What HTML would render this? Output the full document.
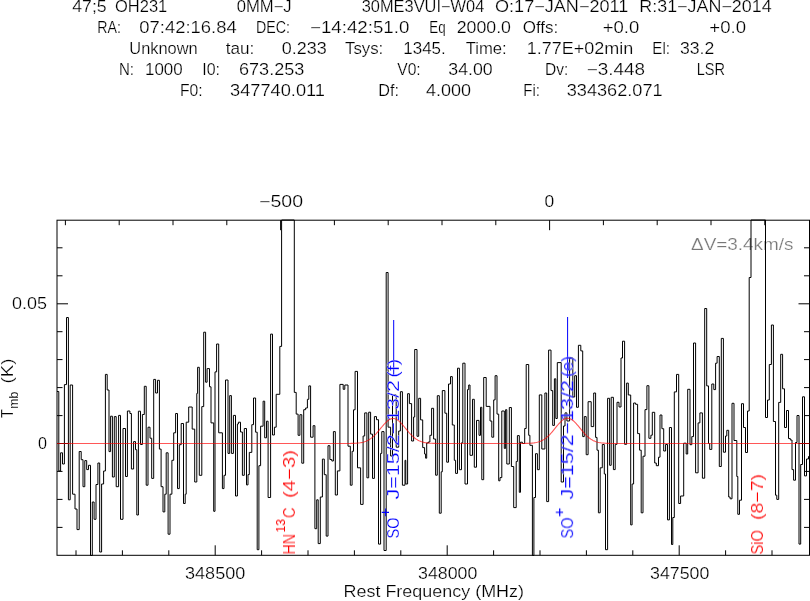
<!DOCTYPE html>
<html><head><meta charset="utf-8"><title>spectrum</title>
<style>
html,body{margin:0;padding:0;background:#fff;}
body{width:810px;height:601px;overflow:hidden;}
svg{display:block;}
text{font-family:"Liberation Sans",sans-serif;stroke:#fff;stroke-width:0.22px;}
</style></head><body>
<svg width="810" height="601" viewBox="0 0 810 601">
<defs><filter id="gs" x="0" y="0" width="810" height="601" filterUnits="userSpaceOnUse" color-interpolation-filters="sRGB"><feColorMatrix type="saturate" values="0"/></filter><filter id="idn" x="0" y="0" width="810" height="601" filterUnits="userSpaceOnUse" color-interpolation-filters="sRGB"><feOffset dx="0" dy="0"/></filter></defs>
<rect width="810" height="601" fill="#fff"/>
<g id="hdr" filter="url(#gs)">
<text x="72.3" y="11.9" font-size="16.2" textLength="34.4" lengthAdjust="spacingAndGlyphs" fill="#000" >47;5</text>
<text x="115.0" y="11.9" font-size="16.2" textLength="52.3" lengthAdjust="spacingAndGlyphs" fill="#000" >OH231</text>
<text x="236.7" y="11.9" font-size="16.2" textLength="55.0" lengthAdjust="spacingAndGlyphs" fill="#000" >0MM&#8722;J</text>
<text x="361.7" y="11.9" font-size="16.2" textLength="122.6" lengthAdjust="spacingAndGlyphs" fill="#000" >30ME3VUI&#8722;W04</text>
<text x="495.0" y="11.9" font-size="16.2" textLength="133.3" lengthAdjust="spacingAndGlyphs" fill="#000" >O:17&#8722;JAN&#8722;2011</text>
<text x="639.3" y="11.9" font-size="16.2" textLength="132.4" lengthAdjust="spacingAndGlyphs" fill="#000" >R:31&#8722;JAN&#8722;2014</text>
<text x="97.3" y="33.1" font-size="16.2" textLength="23.7" lengthAdjust="spacingAndGlyphs" fill="#000" >RA:</text>
<text x="139.3" y="33.1" font-size="16.2" textLength="97.4" lengthAdjust="spacingAndGlyphs" fill="#000" >07:42:16.84</text>
<text x="256.0" y="33.1" font-size="16.2" textLength="34.0" lengthAdjust="spacingAndGlyphs" fill="#000" >DEC:</text>
<text x="310.0" y="33.1" font-size="16.2" textLength="99.3" lengthAdjust="spacingAndGlyphs" fill="#000" >&#8722;14:42:51.0</text>
<text x="429.3" y="33.1" font-size="16.2" textLength="16.4" lengthAdjust="spacingAndGlyphs" fill="#000" >Eq</text>
<text x="456.7" y="33.1" font-size="16.2" textLength="54.3" lengthAdjust="spacingAndGlyphs" fill="#000" >2000.0</text>
<text x="522.7" y="33.1" font-size="16.2" textLength="35.6" lengthAdjust="spacingAndGlyphs" fill="#000" >Offs:</text>
<text x="602.7" y="33.1" font-size="16.2" textLength="36.6" lengthAdjust="spacingAndGlyphs" fill="#000" >+0.0</text>
<text x="709.3" y="33.1" font-size="16.2" textLength="36.7" lengthAdjust="spacingAndGlyphs" fill="#000" >+0.0</text>
<text x="129.3" y="54.1" font-size="16.2" textLength="68.4" lengthAdjust="spacingAndGlyphs" fill="#000" >Unknown</text>
<text x="225.7" y="54.1" font-size="16.2" textLength="28.6" lengthAdjust="spacingAndGlyphs" fill="#000" >tau:</text>
<text x="281.7" y="54.1" font-size="16.2" textLength="45.0" lengthAdjust="spacingAndGlyphs" fill="#000" >0.233</text>
<text x="345.0" y="54.1" font-size="16.2" textLength="38.3" lengthAdjust="spacingAndGlyphs" fill="#000" >Tsys:</text>
<text x="403.3" y="54.1" font-size="16.2" textLength="42.4" lengthAdjust="spacingAndGlyphs" fill="#000" >1345.</text>
<text x="465.7" y="54.1" font-size="16.2" textLength="41.0" lengthAdjust="spacingAndGlyphs" fill="#000" >Time:</text>
<text x="526.7" y="54.1" font-size="16.2" textLength="106.6" lengthAdjust="spacingAndGlyphs" fill="#000" >1.77E+02min</text>
<text x="652.3" y="54.1" font-size="16.2" textLength="17.7" lengthAdjust="spacingAndGlyphs" fill="#000" >El:</text>
<text x="680.0" y="54.1" font-size="16.2" textLength="34.3" lengthAdjust="spacingAndGlyphs" fill="#000" >33.2</text>
<text x="119.0" y="75.0" font-size="16.2" textLength="15.0" lengthAdjust="spacingAndGlyphs" fill="#000" >N:</text>
<text x="145.0" y="75.0" font-size="16.2" textLength="37.7" lengthAdjust="spacingAndGlyphs" fill="#000" >1000</text>
<text x="202.3" y="75.0" font-size="16.2" textLength="17.7" lengthAdjust="spacingAndGlyphs" fill="#000" >I0:</text>
<text x="239.0" y="75.0" font-size="16.2" textLength="65.3" lengthAdjust="spacingAndGlyphs" fill="#000" >673.253</text>
<text x="397.3" y="75.0" font-size="16.2" textLength="23.4" lengthAdjust="spacingAndGlyphs" fill="#000" >V0:</text>
<text x="448.3" y="75.0" font-size="16.2" textLength="44.4" lengthAdjust="spacingAndGlyphs" fill="#000" >34.00</text>
<text x="545.0" y="75.0" font-size="16.2" textLength="23.3" lengthAdjust="spacingAndGlyphs" fill="#000" >Dv:</text>
<text x="586.7" y="75.0" font-size="16.2" textLength="58.3" lengthAdjust="spacingAndGlyphs" fill="#000" >&#8722;3.448</text>
<text x="696.7" y="75.0" font-size="16.2" textLength="28.3" lengthAdjust="spacingAndGlyphs" fill="#000" >LSR</text>
<text x="180.0" y="95.9" font-size="16.2" textLength="22.7" lengthAdjust="spacingAndGlyphs" fill="#000" >F0:</text>
<text x="230.0" y="95.9" font-size="16.2" textLength="95.0" lengthAdjust="spacingAndGlyphs" fill="#000" >347740.011</text>
<text x="378.3" y="95.9" font-size="16.2" textLength="20.7" lengthAdjust="spacingAndGlyphs" fill="#000" >Df:</text>
<text x="426.0" y="95.9" font-size="16.2" textLength="45.0" lengthAdjust="spacingAndGlyphs" fill="#000" >4.000</text>
<text x="523.3" y="95.9" font-size="16.2" textLength="16.7" lengthAdjust="spacingAndGlyphs" fill="#000" >Fi:</text>
<text x="566.7" y="95.9" font-size="16.2" textLength="96.0" lengthAdjust="spacingAndGlyphs" fill="#000" >334362.071</text>
</g>
<g id="labels" filter="url(#gs)">
<text x="259.0" y="207.0" font-size="16.2" textLength="44.0" lengthAdjust="spacingAndGlyphs" fill="#000" >&#8722;500</text>
<text x="544.6" y="207.0" font-size="16.2" textLength="9.7" lengthAdjust="spacingAndGlyphs" fill="#000" >0</text>
<text x="12.0" y="309.0" font-size="16.2" textLength="35.0" lengthAdjust="spacingAndGlyphs" fill="#000" >0.05</text>
<text x="38.0" y="448.7" font-size="16.2" textLength="9.0" lengthAdjust="spacingAndGlyphs" fill="#000" >0</text>
<text x="185.0" y="578.8" font-size="16.2" textLength="60.3" lengthAdjust="spacingAndGlyphs" fill="#000" >348500</text>
<text x="418.0" y="578.8" font-size="16.2" textLength="59.3" lengthAdjust="spacingAndGlyphs" fill="#000" >348000</text>
<text x="650.0" y="578.8" font-size="16.2" textLength="59.3" lengthAdjust="spacingAndGlyphs" fill="#000" >347500</text>
<text x="343.5" y="597.2" font-size="16.9" textLength="180.5" lengthAdjust="spacingAndGlyphs" fill="#000" >Rest Frequency (MHz)</text>
<g transform="translate(13.1,418) rotate(-90)">
<text x="0" y="0" font-size="15.8" textLength="8.8" lengthAdjust="spacingAndGlyphs">T</text>
<text x="9.3" y="4.9" font-size="12.4" textLength="17" lengthAdjust="spacingAndGlyphs" style="stroke-width:0.1px">mb</text>
<text x="34.5" y="0" font-size="15.8" textLength="25" lengthAdjust="spacingAndGlyphs">(K)</text>
</g>
<text x="691.0" y="249.8" font-size="16.8" textLength="102.5" lengthAdjust="spacingAndGlyphs" fill="#777" >&#916;V=3.4km/s</text>
</g>
<path id="spec" d="M57.0,391.5H58.8V471.0H60.6V452.8H62.5V464.0H64.4V384.6H66.5V317.5H68.4V499.8H70.2V385.0H72.6V494.2H75.0V509.0H77.0V529.6H79.2V451.5H81.2V459.7H83.0V486.7H84.8V460.6H86.7V469.6H88.5V465.3H90.5V555.5H92.3V502.0H94.1V519.3H96.0V484.5H97.9V463.0H99.7V552.0H101.6V484.0H103.6V471.0H105.4V374.4H107.2V390.0H109.0V451.6H110.6V416.2H112.4V477.0H114.3V416.6H116.2V486.7H118.6V415.4H120.5V519.3H123.0V428.5H125.5V476.5H127.4V411.0H129.9V413.5H131.4V469.0H133.6V441.6H135.5V449.7H136.8V515.0H138.4V411.2H140.5V444.5H142.4V414.5H144.3V386.3H146.2V485.2H148.0V427.2H150.0V438.2H151.7V478.4H153.7V379.4H155.6V393.0H157.5V380.3H159.4V449.1H161.1V486.7H163.0V511.9H164.8V494.2H166.2V452.8H168.1V534.2H170.0V494.2H171.9V460.3H173.7V432.8H175.6V413.5H177.5V488.6H179.3V444.7H181.2V423.5H183.5V503.5H185.2V494.2H186.2V422.2H188.7V407.0H192.2V429.1H194.7V482.0H196.8V393.4H197.6V367.3H199.3V475.3H201.8V406.6H203.7V332.2H205.6V382.2H207.1V368.6H209.5V386.8H211.0V422.9H213.7V511.3H215.0V371.9H216.6V344.0H218.7V432.8H222.4V488.6H224.0V475.3H225.5V380.0H228.0V453.4H229.7V395.6H231.4V453.4H233.4V415.4H235.5V496.0H237.4V424.0H238.4V422.2H240.5V432.0H242.4V475.3H244.3V428.5H246.5V484.9H248.0V474.6H249.3V452.4H251.8V424.7H253.5V398.0H255.6V432.2H257.2V549.7H258.9V465.7H260.6V426.2H263.1V401.2H264.7V437.8H266.5V421.2H268.1V497.5H270.6V334.1H272.5V435.0H274.4V427.2H276.2V394.3H279.8V346.4H281.6V220.0H294.3V392.4H296.2V414.1H298.1V435.3H299.9V414.7H301.8V463.2H303.7V409.7H305.6V408.0H307.4V399.3H308.8V385.9H310.6V437.2H313.1V425.7H314.9V528.7H316.7V499.8H318.2V543.6H320.3V497.0H322.4V459.1H324.3V474.7H326.2V536.1H328.0V445.7H329.9V459.5H331.8V461.0H333.4V431.6H335.3V495.0H337.4V470.9H339.9V384.4H343.2V389.3H344.8V385.0H348.0V446.2H350.3V485.2H352.1V451.3H353.5V409.8H355.1V371.4H357.5V467.8H360.6V504.4H363.1V436.0H364.7V412.9H366.9V477.8H368.7V412.2H370.6V434.1H372.5V478.4H374.4V416.6H376.5V419.7H378.5V544.1H380.6V453.4H381.8V431.6H384.0V550.5H386.2V272.5H388.1V427.2H390.6V456.0H392.5V395.0H396.2V447.2H398.7V431.0H400.4V391.7H402.4V485.2H405.0V460.3H405.8V484.0H407.6V393.7H409.4V403.6H411.6V441.0H413.6V417.0H414.7V349.5H417.0V436.3H418.7V398.3H420.6V419.9H422.7V447.6H424.6V454.0H425.6V458.2H426.7V443.0H428.3V442.0H429.9V435.3H431.6V408.3H433.6V439.0H435.6V475.2H437.3V395.7H439.3V513.2H441.2V471.8H442.3V390.6H444.9V413.2H446.7V462.2H448.5V384.0H450.5V376.6H452.3V425.0H454.3V460.3H455.6V473.4H457.5V368.2H459.4V469.7H461.5V442.8H462.8V363.2H465.0V484.0H467.5V389.6H468.7V385.0H470.0V455.3H472.5V399.3H474.3V467.2H476.5V420.4H479.0V435.3H480.5V407.3H481.8V479.7H483.7V377.5H486.2V406.4H490.0V421.0H491.8V437.2H493.7V399.9H495.1V375.7H497.0V414.1H498.7V480.8H500.0V477.6H501.8V411.0H504.3V448.4H505.6V409.7H506.8V464.0H509.3V407.5H511.4V466.5H513.7V507.6H516.2V461.5H517.4V435.6H519.3V492.3H520.5V442.2H522.4V443.5H524.7V428.5H526.2V364.5H528.7V435.3H529.9V445.3H532.4V555.5H533.9V497.5H535.5V453.7H537.4V469.7H539.3V394.9H541.8V449.0H544.9V393.0H546.7V501.6H548.6V350.1H551.0V390.6H552.7V425.4H554.4V378.8H555.8V418.5H557.3V362.6H561.2V482.0H563.5V426.0H565.0V412.9H566.9V421.0H569.6V358.0H572.8V397.0H574.7V375.7H576.5V407.3H578.4V345.3H580.8V350.9H582.7V436.6H584.3V416.6H586.2V454.7H588.1V401.7H591.2V426.6H593.7V393.0H595.6V437.4H597.0V450.2H598.4V512.8H600.2V467.8H602.3V444.5H604.3V474.0H605.5V549.7H607.6V398.3H609.6V465.3H611.2V397.3H613.4V469.6H615.2V444.3H617.0V402.3H619.0V407.0H621.0V358.0H622.5V341.2H624.6V444.3H626.6V383.1H628.3V395.0H630.7V524.9H632.1V484.0H633.6V403.0H635.6V404.3H637.6V433.6H639.6V450.2H641.2V512.8H643.0V456.2H645.0V409.6H646.9V385.7H648.9V438.3H650.9V435.2H652.3V412.3H654.7V463.0H656.3V465.7H658.5V457.2H660.0V415.0H661.9V428.7H663.7V451.0H665.6V444.5H667.5V519.9H669.4V427.5H671.5V544.5H672.8V517.5H674.3V391.9H676.5V374.4H678.7V503.5H680.6V496.0H683.7V443.2H686.2V454.0H687.7V389.3H690.0V444.7H691.8V436.6H693.5V343.0H695.6V472.8H698.1V422.9H699.9V412.9H702.4V478.2H704.7V308.5H706.7V385.9H708.5V443.5H709.7V449.4H711.8V384.0H713.8V389.6H715.6V363.2H717.1V356.5H719.3V466.5H721.3V338.4H723.4V452.2H725.5V436.0H726.8V430.3H728.7V497.0H730.1V498.8H732.0V403.3H734.0V440.5H736.8V476.5H737.8V514.3H739.5V500.2H741.5V403.7H743.5V427.5H745.5V452.5H747.5V411.0H749.2V277.5H751.0V220.0H765.5V417.5H767.5V400.0H769.3V364.5H771.4V325.0H773.4V421.5H775.5V495.2H776.8V499.4H778.7V402.4H780.7V354.3H782.6V388.8H784.5V427.5H786.5V410.5H788.5V438.5H790.3V440.0H792.0V469.6H793.6V480.2H795.5V442.5H797.0V415.5H799.0V544.1H800.7V464.5H802.5V396.8H804.5V475.9H806.5V459.0H808.5V456.5H809.5" fill="none" stroke="#000" stroke-width="1" stroke-linejoin="miter"/>
<g id="blue" stroke="#00f" stroke-width="1" fill="none">
<path d="M393.7,320V376"/>
<path d="M567.6,317V378"/>
</g>
<g id="rot" font-size="16.8" filter="url(#idn)">
<g transform="translate(399.3,538.5) rotate(-90)" fill="#00f">
<text x="0" y="0" textLength="21" lengthAdjust="spacingAndGlyphs">SO</text>
<text x="21.6" y="-9.4" font-size="15" textLength="9.4" lengthAdjust="spacingAndGlyphs" style="stroke:none">+</text>
<text x="39" y="0" textLength="119.5" lengthAdjust="spacingAndGlyphs">J=15/2&#8722;13/2</text>
<text x="160.8" y="0" textLength="19" lengthAdjust="spacingAndGlyphs">(f)</text>
</g>
<g transform="translate(573.1,538.5) rotate(-90)" fill="#00f">
<text x="0" y="0" textLength="21" lengthAdjust="spacingAndGlyphs">SO</text>
<text x="21.6" y="-9.4" font-size="15" textLength="9.4" lengthAdjust="spacingAndGlyphs" style="stroke:none">+</text>
<text x="39" y="0" textLength="119.5" lengthAdjust="spacingAndGlyphs">J=15/2&#8722;13/2</text>
<text x="161.5" y="0" textLength="21" lengthAdjust="spacingAndGlyphs">(e)</text>
</g>
<g transform="translate(295,554.5) rotate(-90)" fill="#f00">
<text x="0" y="0" textLength="20.5" lengthAdjust="spacingAndGlyphs">HN</text>
<text x="22" y="-10" font-size="12.3" textLength="13.5" lengthAdjust="spacingAndGlyphs" style="stroke:none">13</text>
<text x="36.5" y="0" textLength="10.5" lengthAdjust="spacingAndGlyphs">C</text>
<text x="56.5" y="0" textLength="48" lengthAdjust="spacingAndGlyphs">(4&#8722;3)</text>
</g>
<g transform="translate(763,554.5) rotate(-90)" fill="#f00">
<text x="0" y="0" textLength="24.5" lengthAdjust="spacingAndGlyphs">SiO</text>
<text x="34.5" y="0" textLength="46" lengthAdjust="spacingAndGlyphs">(8&#8722;7)</text>
</g>
</g>
<g id="frame" fill="none" stroke="#000" stroke-width="1">
<rect x="57.0" y="220.2" width="752.5" height="335.09999999999997"/>
<path d="M76.0,555.3v-5M122.4,555.3v-5M168.8,555.3v-5M215.2,555.3v-10M261.6,555.3v-5M308.0,555.3v-5M354.4,555.3v-5M400.8,555.3v-5M447.2,555.3v-10M493.6,555.3v-5M540.0,555.3v-5M586.4,555.3v-5M632.8,555.3v-5M679.2,555.3v-10M725.6,555.3v-5M772.0,555.3v-5M65.4,220.2v5M119.2,220.2v5M173.0,220.2v5M226.8,220.2v5M280.6,220.2v10M334.4,220.2v5M388.2,220.2v5M442.0,220.2v5M495.8,220.2v5M549.6,220.2v10M603.4,220.2v5M657.2,220.2v5M711.0,220.2v5M764.8,220.2v5M57.0,527.4h5.5M809.5,527.4h-5.5M57.0,499.4h5.5M809.5,499.4h-5.5M57.0,471.4h5.5M809.5,471.4h-5.5M57.0,443.5h11M809.5,443.5h-11M57.0,415.6h5.5M809.5,415.6h-5.5M57.0,387.6h5.5M809.5,387.6h-5.5M57.0,359.6h5.5M809.5,359.6h-5.5M57.0,331.7h5.5M809.5,331.7h-5.5M57.0,303.8h11M809.5,303.8h-11M57.0,275.8h5.5M809.5,275.8h-5.5M57.0,247.8h5.5M809.5,247.8h-5.5"/>
</g>
<g id="red" fill="none" stroke="#f00" stroke-width="1.1" stroke-opacity="0.66">
<path d="M57.0,443.50 L347.0,443.48 L348.0,443.47 L349.0,443.46 L350.0,443.44 L351.0,443.42 L352.0,443.40 L353.0,443.37 L354.0,443.33 L355.0,443.28 L356.0,443.22 L357.0,443.14 L358.0,443.04 L359.0,442.93 L360.0,442.79 L361.0,442.62 L362.0,442.42 L363.0,442.19 L364.0,441.91 L365.0,441.58 L366.0,441.21 L367.0,440.77 L368.0,440.28 L369.0,439.72 L370.0,439.09 L371.0,438.39 L372.0,437.62 L373.0,436.78 L374.0,435.87 L375.0,434.88 L376.0,433.84 L377.0,432.74 L378.0,431.59 L379.0,430.40 L380.0,429.19 L381.0,427.97 L382.0,426.75 L383.0,425.56 L384.0,424.40 L385.0,423.30 L386.0,422.28 L387.0,421.35 L388.0,420.53 L389.0,419.83 L390.0,419.27 L391.0,418.86 L392.0,418.60 L393.0,418.50 L394.0,418.57 L395.0,418.79 L396.0,419.17 L397.0,419.71 L398.0,420.38 L399.0,421.18 L400.0,422.09 L401.0,423.09 L402.0,424.18 L403.0,425.32 L404.0,426.51 L405.0,427.73 L406.0,428.95 L407.0,430.16 L408.0,431.35 L409.0,432.51 L410.0,433.62 L411.0,434.68 L412.0,435.68 L413.0,436.60 L414.0,437.46 L415.0,438.24 L416.0,438.96 L417.0,439.60 L418.0,440.17 L419.0,440.68 L420.0,441.12 L421.0,441.51 L422.0,441.85 L423.0,442.13 L424.0,442.38 L425.0,442.59 L426.0,442.76 L427.0,442.90 L428.0,443.02 L429.0,443.12 L430.0,443.20 L431.0,443.27 L432.0,443.32 L433.0,443.36 L434.0,443.39 L435.0,443.42 L436.0,443.44 L437.0,443.45 L438.0,443.46 L439.0,443.47 L522.0,443.47 L523.0,443.46 L524.0,443.45 L525.0,443.43 L526.0,443.41 L527.0,443.38 L528.0,443.35 L529.0,443.30 L530.0,443.24 L531.0,443.18 L532.0,443.09 L533.0,442.98 L534.0,442.86 L535.0,442.70 L536.0,442.52 L537.0,442.30 L538.0,442.04 L539.0,441.73 L540.0,441.38 L541.0,440.97 L542.0,440.50 L543.0,439.96 L544.0,439.36 L545.0,438.69 L546.0,437.95 L547.0,437.13 L548.0,436.25 L549.0,435.29 L550.0,434.26 L551.0,433.17 L552.0,432.03 L553.0,430.85 L554.0,429.64 L555.0,428.40 L556.0,427.17 L557.0,425.94 L558.0,424.75 L559.0,423.61 L560.0,422.53 L561.0,421.54 L562.0,420.65 L563.0,419.88 L564.0,419.24 L565.0,418.75 L566.0,418.41 L567.0,418.23 L568.0,418.21 L569.0,418.36 L570.0,418.67 L571.0,419.13 L572.0,419.74 L573.0,420.49 L574.0,421.36 L575.0,422.33 L576.0,423.39 L577.0,424.52 L578.0,425.70 L579.0,426.92 L580.0,428.15 L581.0,429.39 L582.0,430.61 L583.0,431.80 L584.0,432.95 L585.0,434.05 L586.0,435.09 L587.0,436.06 L588.0,436.96 L589.0,437.79 L590.0,438.55 L591.0,439.24 L592.0,439.85 L593.0,440.40 L594.0,440.88 L595.0,441.30 L596.0,441.66 L597.0,441.98 L598.0,442.25 L599.0,442.48 L600.0,442.67 L601.0,442.83 L602.0,442.96 L603.0,443.07 L604.0,443.16 L605.0,443.23 L606.0,443.29 L607.0,443.34 L608.0,443.37 L609.0,443.40 L610.0,443.43 L611.0,443.44 L612.0,443.46 L613.0,443.47 L614.0,443.48 L809.5,443.50" stroke-linejoin="round"/>
</g>
</svg>
</body></html>
